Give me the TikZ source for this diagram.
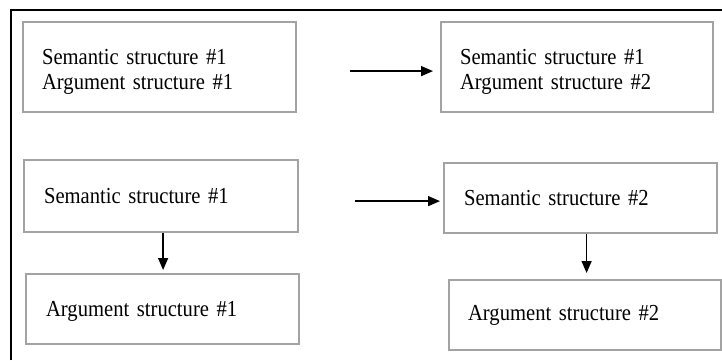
\documentclass[tikz,border=0pt]{standalone}
\usepackage{fontspec}
\setmainfont{Liberation Serif}[FakeStretch=0.9,WordSpace=0.85]
\usetikzlibrary{arrows.meta,calc}
\begin{document}
\begin{tikzpicture}[x=1pt,y=-1pt,
  box/.style={draw=black!36,line width=2.2pt,rectangle,anchor=north west,align=left,
    inner xsep=19pt,inner ysep=0pt,font=\fontsize{22.9pt}{25pt}\selectfont},
  arr/.style={draw=black,line width=1.4pt,-{Triangle[length=12pt,width=10pt]}},
  frame/.style={draw=black,line width=1.8pt}]
\useasboundingbox (0,0) rectangle (722,360);
\coordinate (fa) at (11,360);
\coordinate (fb) at (11,10);
\coordinate (fc) at (722,10);
\draw[frame] (fa) -- (fb) -- (fc);
\node[box,text width=235pt,minimum height=90pt] (b1) at (22,21) {\rule{0pt}{24pt}Semantic structure \#1\\Argument structure \#1};
\node[box,text width=234pt,minimum height=90pt] (b2) at (440,21) {\rule{0pt}{24pt}Semantic structure \#1\\Argument structure \#2};
\node[box,text width=234pt,minimum height=72pt,inner xsep=20pt] (b3) at (23,159) {Semantic structure \#1};
\node[box,text width=233pt,minimum height=70pt,inner xsep=20pt,text depth=0pt] (b4) at (25,273) {Argument structure \#1};
\node[box,text width=233pt,minimum height=70pt,inner xsep=20pt] (b5) at (443,162) {Semantic structure \#2};
\node[box,text width=234pt,minimum height=70pt,inner xsep=19pt] (b6) at (448,279) {Argument structure \#2};
\draw[arr,shorten <=53pt,shorten >=7pt] ([yshift=-4pt]b1.east) -- ([yshift=-4pt]b1.east -| b2.west);
\draw[arr,shorten <=56pt,shorten >=3pt] ([yshift=-5pt]b3.east) -- ([yshift=-5pt]b3.east -| b5.west);
\draw[arr,shorten >=3pt] ([xshift=2pt]b3.south) -- ([xshift=2pt]b3.south |- b4.north);
\draw[arr,shorten >=6pt] ([xshift=6pt]b5.south) -- ([xshift=6pt]b5.south |- b6.north);
\end{tikzpicture}
\end{document}
